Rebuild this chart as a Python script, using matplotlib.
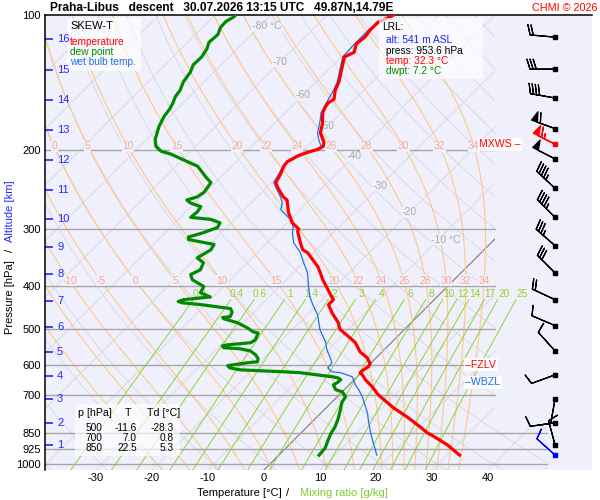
import numpy as np
import matplotlib.pyplot as plt
from matplotlib.transforms import Affine2D
from matplotlib.patches import Polygon, Rectangle
from matplotlib.ticker import FixedLocator, FixedFormatter

plt.rcParams['font.family'] = ['Liberation Sans', 'DejaVu Sans']
plt.rcParams['axes.unicode_minus'] = False

# sounding: pressure [hPa], temperature [degC]
temp_p = [953.6, 905, 864, 850, 825, 784, 748, 700, 672, 648, 632, 625, 616, 606, 597,
          579, 562, 536, 523, 500, 484, 460, 441, 430, 424, 409, 388, 375, 363, 350,
          338, 333, 321, 303, 299, 290, 275, 258, 254, 242, 236, 227, 217, 212, 206,
          202, 199, 196, 192, 183, 174, 165, 160, 157, 154, 147, 141, 124, 121, 116,
          112, 108, 104, 100]
temp_t = [32.3, 28.3, 24.1, 22.5, 20.2, 16.1, 12.0, 7.0, 4.5, 2.0, 0.6, -0.2, -0.1, 0.2, 0.0,
          -1.6, -3.9, -6.4, -8.2, -11.6, -13.0, -15.9, -18.0, -18.0, -18.8, -20.7, -23.5, -25.1, -26.7, -28.9,
          -31.0, -32.4, -34.1, -36.6, -36.9, -39.1, -41.6, -44.1, -45.3, -48.0, -49.2, -49.8, -50.7, -50.9, -50.1,
          -48.9, -47.6, -47.2, -47.8, -50.1, -51.5, -53.3, -53.9, -54.1, -53.7, -55.1, -55.9, -59.4, -58.5, -59.6,
          -59.3, -59.6, -59.6, -58.1]

dwpt_p = [953.6, 919, 882, 851, 825, 788, 756, 726, 707, 689, 682, 665, 658, 648, 642,
          638, 632, 625, 622, 619, 616, 610, 603, 600, 594, 591, 582, 570, 559, 553,
          550, 545, 542, 536, 528, 510, 507, 497, 484, 474, 471, 469, 458, 450, 441,
          437, 434, 430, 424, 415, 402, 388, 378, 369, 356, 347, 333, 324, 316, 312,
          305, 297, 290, 285, 282, 274, 267, 262, 258, 254, 248, 236, 229, 217, 210,
          204, 201, 196, 189, 177, 168, 162, 157, 152, 147, 141, 134, 129, 124, 119,
          115, 110.5, 106.6, 103.4, 101, 100]
dwpt_t = [7.2, 7.0, 6.1, 5.4, 5.0, 4.0, 2.9, 1.8, 1.5, 0.0, -1.5, -2.8, -2.5, -2.4, -3.2,
          -4.5, -7.5, -10.9, -14.1, -18.3, -22.1, -24.3, -25.1, -24.2, -22.1, -20.5, -20.9, -22.1, -23.7, -25.9,
          -29.0, -29.6, -28.9, -25.1, -24.8, -25.5, -26.6, -28.3, -31.0, -34.2, -34.6, -33.4, -33.9, -34.8, -40.8,
          -44.4, -45.4, -44.8, -40.5, -43.0, -43.5, -46.8, -48.0, -47.1, -47.8, -49.8, -48.8, -49.2, -54.6, -55.1,
          -53.2, -51.6, -52.0, -54.2, -58.2, -58.0, -58.3, -60.8, -62.0, -60.7, -60.3, -60.8, -62.8, -66.1, -69.8,
          -73.0, -75.3, -77.1, -78.5, -80.1, -81.0, -81.3, -81.8, -82.5, -82.8, -83.7, -84.2, -85.0, -84.9, -85.4,
          -86.2, -86.0, -86.8, -86.9, -86.3, -86.3]

wetb_p = [953.6, 928, 882, 838, 796, 768, 737, 707, 682, 665, 648, 638, 625, 622, 610,
          594, 579, 556, 536, 520, 502, 465, 441, 424, 402, 375, 356, 338, 321, 305,
          296, 285, 271, 262, 254, 236, 229, 215, 207, 198, 196, 189, 183, 171, 165,
          157, 147, 141, 124, 116, 108, 100]
wetb_t = [17.5, 16.3, 14.0, 11.8, 9.7, 8.3, 6.4, 4.5, 2.6, 1.1, -0.1, -0.9, -3.7, -5.4, -6.8,
          -7.0, -8.2, -10.2, -11.7, -13.2, -15.0, -18.1, -20.8, -22.7, -24.8, -27.4, -29.9, -32.3, -35.3, -37.3,
          -38.2, -40.0, -43.5, -44.4, -45.8, -49.6, -50.0, -51.0, -49.9, -47.8, -47.6, -49.3, -50.6, -52.5, -53.6,
          -54.4, -55.4, -56.2, -59.7, -59.9, -59.9, -58.5]

# winds: pressure [hPa], direction [deg], speed [kt]
wind_p = [112, 132, 153, 179, 194, 209, 243, 282, 326, 375, 430, 491, 559, 632, 715, 808, 905, 953.6]
wind_dir = [275, 270, 280, 290, 297, 297, 313, 315, 311, 315, 295, 293, 318, 250, 190, 262, 345, 312]
wind_spd = [20, 30, 40, 60, 65, 50, 45, 45, 35, 30, 20, 10, 10, 10, 10, 10, 10, 10]
mxws_p = 194

# altitude marks [km] and their pressure in this sounding
alt_km = [1, 2, 3, 4, 5, 6, 7, 8, 9, 10, 11, 12, 13, 14, 15, 16]
alt_p = [905, 808, 715, 635, 561, 495, 432, 376, 328, 284, 244.6, 210, 179.9, 154.2, 132.3, 112.8]

fzlv_p = 600
wbzl_p = 657

table_p = [500, 700, 850]
table_t = [-11.6, 7.0, 22.5]
table_td = [-28.3, 0.8, 5.3]

isobars = [200, 300, 400, 500, 600, 700, 850, 925, 1000]
p_ticks = [100, 200, 300, 400, 500, 600, 700, 850, 925, 1000]
t_ticks = [-30, -20, -10, 0, 10, 20, 30, 40]
moist_tw = [-20, -15, -10, -5, 0, 5, 10, 15, 20, 22, 24, 26, 28, 30, 32, 34]
mix_w = [0.2, 0.4, 0.6, 1, 1.4, 2, 3, 4, 6, 8, 10, 12, 14, 17, 20, 25]
iso_lab_t = [-80, -70, -60, -50, -40, -30, -20, -10]
iso_lab_p = [106, 127, 151, 177, 206, 240, 275, 316]

P_BOT, P_TOP = 1029, 100
BG = '#f0f0fc'
GRID = '#d6d6e0'
ORANGE = '#ffc88a'
ORANGE_TXT = '#f5aa8c'
MIXG = '#8fd42e'
BLUE_ALT = '#2626ff'


def sat_vp(tc):
    return 6.112 * np.exp(17.67 * tc / (tc + 243.5))


def moist_lapse(tk, p):
    es = sat_vp(tk - 273.15)
    rs = 0.622 * es / (p - es)
    return (287.04 * tk + 2.501e6 * rs) / (1005.7 + 2.501e6 ** 2 * rs * 0.622 / (287.04 * tk ** 2))


def integrate(tw, lnp):
    t = np.array(tw, float) + 273.15
    out = [t.copy()]
    for a, b in zip(lnp[:-1], lnp[1:]):
        h = b - a
        k1 = moist_lapse(t, np.exp(a))
        k2 = moist_lapse(t + h * k1 / 2, np.exp(a + h / 2))
        t = t + h * k2
        out.append(t.copy())
    return np.array(out) - 273.15


def mix_temp(w, p):
    e = w * p / (622.0 + w)
    a = np.log(e / 6.112)
    return 243.5 * a / (17.67 - a)


fig = plt.figure(figsize=(6, 5), dpi=100)
ax = fig.add_axes([45 / 600, 30 / 500, 547 / 600, 455 / 500])
ax.set_facecolor(BG)
ax.set_yscale('log')
ax.set_ylim(P_BOT, P_TOP)
ax.set_xlim(-39.1, 58.6)
for s in ['right', 'bottom']:
    ax.spines[s].set_visible(False)
for s in ['left', 'top']:
    ax.spines[s].set_linewidth(1.1)

# skew-T: shift x by 45 degrees in display space, measured from the bottom edge
y0 = ax.transAxes.transform((0, 0))[1]
skew = ax.transData + Affine2D().translate(0, -y0).skew_deg(45, 0).translate(0, y0)

split = np.log(P_BOT / 820) / np.log(P_BOT / P_TOP)
clip = Polygon([(0, 0), (0.918, 0), (0.918, split), (0.8227, split), (0.8227, 1), (0, 1)],
               closed=True, transform=ax.transAxes, fc='none', ec='none')

pp = np.geomspace(P_BOT, P_TOP, 60)
# isotherms
for t in range(-130, 60, 10):
    ln, = ax.plot([t, t], [P_BOT, P_TOP], transform=skew,
                  color='#777777' if t == 0 else GRID, lw=0.8 if t == 0 else 0.6, zorder=1)
    ln.set_clip_path(clip)
# dry adiabats
for th in range(-40, 260, 10):
    ln, = ax.plot((th + 273.15) * (pp / 1000) ** 0.2857 - 273.15, pp, transform=skew,
                  color=GRID, lw=0.6, zorder=1)
    ln.set_clip_path(clip)

# moist adiabats
lnp_up = np.linspace(np.log(1000), np.log(P_TOP), 300)
lnp_dn = np.linspace(np.log(1000), np.log(1040), 10)
up = integrate(moist_tw, lnp_up)
dn = integrate(moist_tw, lnp_dn)
lnp_all = np.concatenate([lnp_dn[::-1], lnp_up[1:]])
moist = np.concatenate([dn[::-1], up[1:]])
for i, tw in enumerate(moist_tw):
    ln, = ax.plot(moist[:, i], np.exp(lnp_all), transform=skew, color=ORANGE, lw=0.8, zorder=1.2)
    ln.set_clip_path(clip)
lab_box = dict(boxstyle='square,pad=0.05', fc=BG, ec='none')
for plab, first in [(196, 0), (390, -10)]:
    for i, tw in enumerate(moist_tw):
        if tw < first:
            continue
        tl = np.interp(np.log(plab), lnp_all[::-1], moist[::-1, i])
        ax.text(tl, plab, str(tw), transform=skew, ha='center', va='center',
                fontsize=7.3, color=ORANGE_TXT, bbox=lab_box, zorder=2.5, clip_on=True)

# mixing ratio lines
pm = np.geomspace(P_BOT, 430, 30)
for w in mix_w:
    ax.plot(mix_temp(w, pm), pm, transform=skew, color=MIXG, lw=0.7, zorder=1.4)
    ax.text(mix_temp(w, 430), 417, f'{w:g}', transform=skew, ha='center', va='center',
            fontsize=7.3, color=MIXG, zorder=2.5)

# isotherm labels
for t, p in zip(iso_lab_t, iso_lab_p):
    if t in (-80, -10):
        ax.annotate(f'{t} °C', (t, p), xycoords=skew, xytext=(-5.5, 0), textcoords='offset points',
                    ha='left', va='center', fontsize=7.5, color='#a8a8a8', bbox=lab_box, zorder=2.5)
    else:
        ax.text(t, p, str(t), transform=skew, ha='center', va='center',
                fontsize=7.5, color='#a8a8a8', bbox=lab_box, zorder=2.5)

# isobars
for p in isobars:
    ax.axhline(p, xmin=0, xmax=0.918 if p >= 850 else 0.8227, color='#a6a6a6', lw=1.0, zorder=2)

# profiles
ax.plot(wetb_t, wetb_p, transform=skew, color='#1f6fe8', lw=0.9, zorder=4)
ax.plot(dwpt_t, dwpt_p, transform=skew, color='#008a00', lw=2.3, zorder=4.2)
ax.plot(temp_t, temp_p, transform=skew, color='#ff0000', lw=2.3, zorder=4.4)

# wind barbs
wd = np.radians(wind_dir)
u = -np.array(wind_spd) * np.sin(wd)
v = -np.array(wind_spd) * np.cos(wd)
wx = np.full(len(wind_p), 52.0)
cols = ['k'] * len(wind_p)
cols[wind_p.index(mxws_p)] = 'red'
cols[-1] = 'blue'
for c in ['k', 'red', 'blue']:
    idx = [i for i, cc in enumerate(cols) if cc == c]
    ax.barbs(wx[idx], np.array(wind_p)[idx], u[idx], v[idx], length=6, lw=0.9,
             barbcolor=c, flagcolor=c, zorder=5)
    ax.plot(wx[idx], np.array(wind_p)[idx], 's', ms=2.8, color=c, zorder=5.2)

# axes ticks
ax.yaxis.set_major_locator(FixedLocator(p_ticks))
ax.yaxis.set_major_formatter(FixedFormatter([str(p) for p in p_ticks]))
ax.yaxis.set_minor_locator(FixedLocator(alt_p))
ax.tick_params(axis='y', which='major', length=0, pad=3, labelsize=8)
ax.tick_params(axis='y', which='minor', direction='in', length=6, width=1.2,
               color=BLUE_ALT, labelleft=False)
ax.set_xticks(t_ticks)
ax.set_xticklabels([str(t) for t in t_ticks])
ax.tick_params(axis='x', length=0, pad=2.5, labelsize=8)
for km, p in zip(alt_km, alt_p):
    ax.text(0.022, p, str(km), transform=ax.get_yaxis_transform(), ha='left', va='center',
            fontsize=8, color=BLUE_ALT, zorder=6)

# level markers
white = dict(boxstyle='square,pad=0.15', fc='white', ec='none', alpha=0.9)
ax.text(0.768, fzlv_p, '–FZLV', transform=ax.get_yaxis_transform(), ha='left', va='center',
        fontsize=7.6, color='red', bbox=white, zorder=6)
ax.text(0.768, wbzl_p, '–WBZL', transform=ax.get_yaxis_transform(), ha='left', va='center',
        fontsize=7.6, color='#1f6fe8', bbox=white, zorder=6)
ax.text(0.87, mxws_p, 'MXWS –', transform=ax.get_yaxis_transform(), ha='right', va='center',
        fontsize=7.6, color='red', bbox=white, zorder=6)

# boxes
def box(x0, y0_, x1, y1):
    ax.add_patch(Rectangle(((x0 - 45) / 547, (470 - y1) / 455), (x1 - x0) / 547, (y1 - y0_) / 455,
                           transform=ax.transAxes, fc='white', ec='none', alpha=0.68, zorder=5.5))

def atext(x, y, s, **kw):
    ax.text((x - 45) / 547, (470 - y) / 455, s, transform=ax.transAxes, va='center', zorder=6, **kw)

box(67, 18, 141, 71)
atext(70, 26, 'SKEW-T', fontsize=8, color='black')
atext(70, 42, 'temperature', fontsize=7.3, color='red')
atext(70, 52, 'dew point', fontsize=7.3, color='#008a00')
atext(70, 62, 'wet bulb temp.', fontsize=7.3, color='#1f6fe8')

box(379, 18, 483, 79)
atext(382, 27, 'LRL:', fontsize=7.3, color='black')
atext(386, 40, 'alt: 541 m ASL', fontsize=7.3, color='#2020ff')
atext(386, 51, 'press: 953.6 hPa', fontsize=7.3, color='black')
atext(386, 61, 'temp: 32.3 °C', fontsize=7.3, color='red')
atext(386, 71, 'dwpt: 7.2 °C', fontsize=7.3, color='#008a00')

box(75, 404, 180, 456)
atext(78, 413, 'p [hPa]', fontsize=7.7)
atext(128, 413, 'T', fontsize=7.7, ha='center')
atext(147, 413, 'Td [°C]', fontsize=7.7)
for k, (p, t, td) in enumerate(zip(table_p, table_t, table_td)):
    yy = 428 + 10 * k
    atext(102, yy, f'{p}', fontsize=7.3, ha='right')
    atext(137, yy, f'{t:.1f}', fontsize=7.3, ha='right')
    atext(174, yy, f'{td:.1f}', fontsize=7.3, ha='right')

# titles and axis labels
fig.text(50 / 600, 1 - 8 / 500, 'Praha-Libus   descent   30.07.2026 13:15 UTC   49.87N,14.79E',
         fontsize=8.6, fontweight='bold', ha='left', va='center')
fig.text(597 / 600, 1 - 8 / 500, 'CHMI © 2026', fontsize=7.8, color='red', ha='right', va='center')
fig.text(10 / 600, 1 - 297 / 500, 'Pressure [hPa]', rotation=90, fontsize=8, ha='center', va='center')
fig.text(10 / 600, 1 - 250 / 500, '/', rotation=90, fontsize=8, ha='center', va='center')
fig.text(10 / 600, 1 - 211 / 500, 'Altitude [km]', rotation=90, fontsize=8, ha='center', va='center',
         color=BLUE_ALT)
fig.text(239 / 600, 1 - 493 / 500, 'Temperature [°C]', fontsize=8, ha='center', va='center')
fig.text(288 / 600, 1 - 493 / 500, '/', fontsize=8, ha='center', va='center')
fig.text(344 / 600, 1 - 493 / 500, 'Mixing ratio [g/kg]', fontsize=8, ha='center', va='center', color='#7ccc2a')

fig.savefig('out.png', dpi=100)
